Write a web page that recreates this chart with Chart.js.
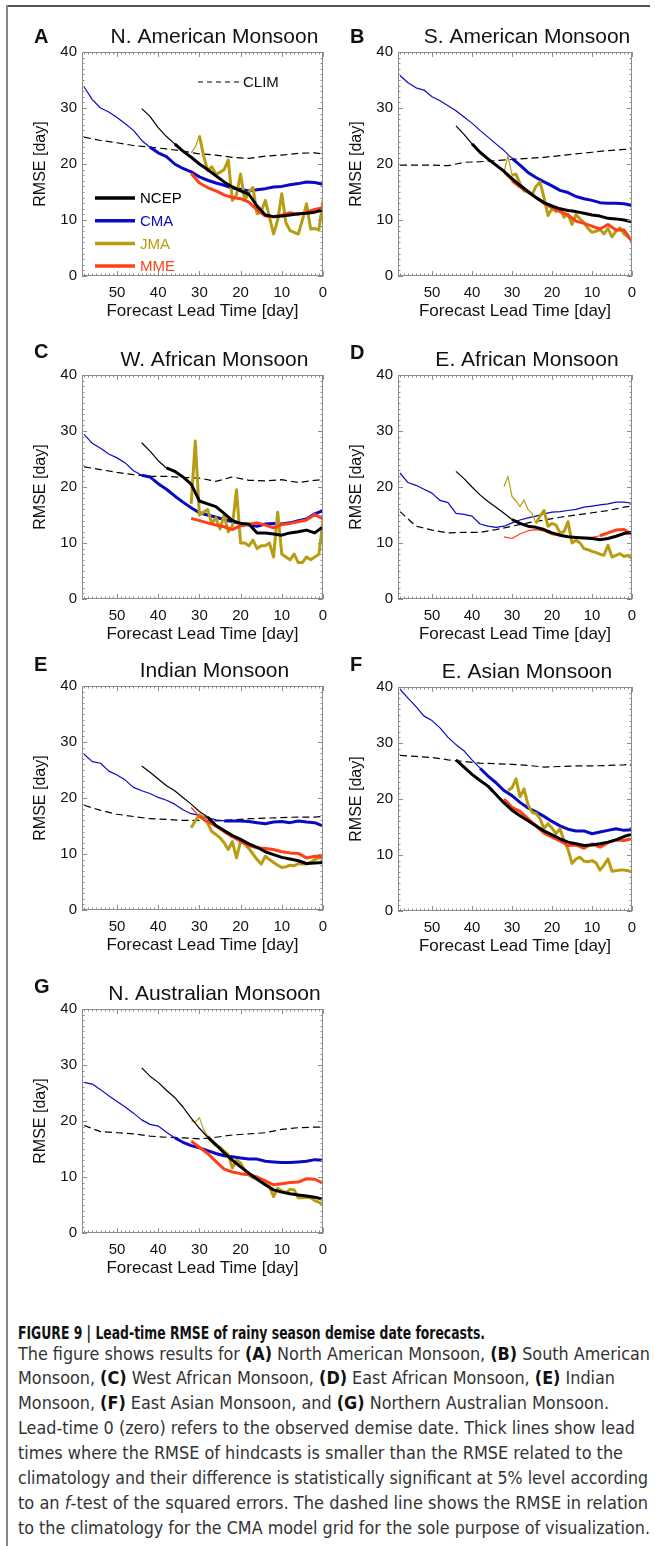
<!DOCTYPE html>
<html>
<head>
<meta charset="utf-8">
<script src="https://cdn.jsdelivr.net/npm/chart.js@4.4.0/dist/chart.umd.min.js"></script>
<style>
  body { margin: 0; background: #fff; width: 655px; height: 1546px; position: relative; overflow: hidden;
         font-family: "Liberation Sans", Arial, Helvetica, sans-serif; }
  .rule-top { position: absolute; left: 6px; top: 5px; width: 644px; height: 2px; background: #555; }
  .rule-left { position: absolute; left: 6px; top: 5px; width: 2px; height: 1541px; background: #888; }
  .cl { position: absolute; left: 18px; white-space: nowrap; font-size: 18px; line-height: 25px; height: 25px;
        color: #333; transform-origin: 0 50%;
        font-family: "Liberation Sans Narrow", "DejaVu Sans Condensed", "Liberation Sans", Arial, sans-serif; }
  .cl b { color: #111; }
</style>
</head>
<body>
<div class="rule-top"></div>
<div class="rule-left"></div>

<div class="cl" style="top:1320px" data-w="467"><b>FIGURE 9 | Lead-time RMSE of rainy season demise date forecasts.</b></div>
<div class="cl" style="top:1341px" data-w="632">The figure shows results for <b>(A)</b> North American Monsoon, <b>(B)</b> South American</div>
<div class="cl" style="top:1365px">Monsoon, <b>(C)</b> West African Monsoon, <b>(D)</b> East African Monsoon, <b>(E)</b> Indian</div>
<div class="cl" style="top:1390px">Monsoon, <b>(F)</b> East Asian Monsoon, and <b>(G)</b> Northern Australian Monsoon.</div>
<div class="cl" style="top:1415px" data-w="617">Lead-time 0 (zero) refers to the observed demise date. Thick lines show lead</div>
<div class="cl" style="top:1440px" data-w="605">times where the RMSE of hindcasts is smaller than the RMSE related to the</div>
<div class="cl" style="top:1465px" data-w="630">climatology and their difference is statistically significant at 5% level according</div>
<div class="cl" style="top:1490px" data-w="630">to an <i>f</i>-test of the squared errors. The dashed line shows the RMSE in relation</div>
<div class="cl" style="top:1515px" data-w="632">to the climatology for the CMA model grid for the sole purpose of visualization.</div>

<script>
// lead times (days before observed demise date)
const leadClim = [58, 54, 50, 46, 42, 38, 34, 30, 26, 22, 18, 14, 10, 6, 2, 0];
const leadCma = [58, 56, 54, 52, 50, 48, 46, 44, 42, 40, 38, 36, 34, 32, 30, 28, 26, 24, 22, 20, 18, 16, 14, 12, 10, 8, 6, 4, 2, 0];
const leadNcep = [44, 42, 40, 38, 36, 34, 32, 30, 28, 26, 24, 22, 20, 18, 16, 14, 12, 10, 8, 6, 4, 2, 0];
const leadJma = [32, 31, 30, 29, 28, 27, 26, 25, 24, 23, 22, 21, 20, 19, 18, 17, 16, 15, 14, 13, 12, 11, 10, 9, 8, 7, 6, 5, 4, 3, 2, 1, 0];
const leadMme = [32, 30, 28, 26, 24, 22, 20, 18, 16, 14, 12, 10, 8, 6, 4, 2, 0];
const xTicks = [50, 40, 30, 20, 10, 0];
const yTicks = [0, 10, 20, 30, 40];

// A  N. American Monsoon
const climA = [24.8, 24.2, 23.8, 23.3, 23.0, 22.7, 22.3, 21.8, 21.6, 21.2, 21.0, 21.4, 21.6, 21.9, 22.0, 21.8];
const cmaA = [33.8, 31.5, 30.0, 29.3, 28.3, 27.2, 26.0, 24.2, 23.0, 22.0, 21.3, 20.0, 19.2, 18.6, 17.7, 17.1, 16.6, 16.2, 15.7, 15.5, 15.2, 15.4, 15.6, 15.9, 16.0, 16.3, 16.5, 16.8, 16.7, 16.4];
const ncepA = [29.9, 28.5, 26.5, 24.9, 23.6, 22.3, 21.2, 20.0, 19.0, 17.9, 16.8, 15.9, 15.2, 14.6, 12.5, 10.9, 10.6, 10.7, 10.9, 11.1, 11.2, 11.4, 11.8];
const jmaA = [22.0, 23.0, 25.1, 21.5, 18.8, 19.5, 18.2, 18.5, 19.0, 20.7, 13.5, 14.5, 18.2, 13.5, 15.0, 15.8, 11.1, 11.5, 13.5, 10.5, 7.5, 10.0, 14.7, 9.5, 8.1, 7.8, 7.5, 10.0, 12.9, 8.4, 8.5, 8.2, 13.5];
const mmeA = [18.3, 16.6, 15.8, 15.2, 14.5, 14.0, 13.8, 13.2, 11.8, 10.7, 10.6, 10.9, 11.3, 11.0, 11.4, 11.9, 12.2];

// B  S. American Monsoon
const climB = [19.8, 19.8, 19.8, 19.7, 20.3, 20.4, 20.6, 20.8, 21.0, 21.2, 21.5, 21.8, 22.1, 22.4, 22.6, 22.7];
const cmaB = [35.8, 34.5, 33.6, 33.2, 32.0, 31.3, 30.4, 29.5, 28.4, 27.3, 26.0, 24.8, 23.6, 22.4, 21.0, 19.8, 18.5, 17.6, 16.8, 16.1, 15.3, 14.9, 14.2, 13.8, 13.5, 13.1, 13.0, 13.0, 12.9, 12.6];
const ncepB = [26.8, 25.3, 23.6, 22.1, 20.9, 19.8, 18.7, 17.4, 16.2, 15.1, 14.0, 13.1, 12.5, 12.0, 11.7, 11.5, 11.2, 10.9, 10.7, 10.3, 10.2, 10.0, 9.7];
const jmaB = [18.5, 21.5, 18.0, 18.2, 16.5, 15.2, 15.0, 14.5, 16.0, 16.8, 14.0, 10.8, 12.0, 11.5, 12.0, 10.5, 11.0, 9.2, 11.0, 10.2, 9.5, 8.5, 7.8, 8.0, 8.3, 7.5, 8.5, 7.0, 8.0, 8.6, 7.5, 7.0, 6.4];
const mmeB = [18.4, 17.0, 15.9, 15.0, 14.0, 13.0, 12.2, 11.5, 10.9, 9.8, 9.4, 8.9, 8.4, 9.2, 8.2, 8.2, 6.2];

// C  W. African Monsoon
const climC = [23.6, 23.1, 22.6, 22.2, 21.9, 21.9, 21.7, 21.6, 21.0, 21.8, 21.2, 21.1, 21.3, 20.8, 21.2, 21.3];
const cmaC = [29.4, 27.8, 26.9, 25.9, 25.2, 24.3, 22.9, 22.1, 21.8, 20.6, 19.6, 18.4, 17.3, 16.3, 15.4, 15.0, 14.6, 14.2, 13.8, 13.5, 13.2, 13.0, 13.4, 13.5, 13.4, 13.6, 14.0, 14.3, 15.2, 15.8];
const ncepC = [27.9, 26.4, 24.7, 23.4, 22.8, 21.8, 20.5, 17.5, 17.0, 16.5, 15.3, 14.0, 13.5, 13.4, 11.8, 11.8, 11.6, 11.4, 11.8, 12.0, 12.3, 11.8, 12.9];
const jmaC = [17.0, 28.2, 15.0, 15.5, 16.0, 13.5, 14.5, 12.5, 15.0, 12.0, 13.0, 19.5, 10.0, 10.0, 9.5, 10.5, 9.0, 9.5, 9.5, 10.0, 7.5, 15.5, 8.0, 7.5, 7.0, 8.0, 6.5, 6.5, 7.5, 7.0, 7.5, 8.0, 14.0];
const mmeC = [14.4, 14.0, 13.6, 13.2, 12.9, 12.4, 13.1, 13.3, 13.6, 13.2, 12.7, 13.3, 13.5, 13.8, 14.1, 15.1, 14.3];

// D  E. African Monsoon
const climD = [15.6, 13.0, 12.3, 11.8, 11.9, 11.9, 12.4, 13.0, 13.6, 14.1, 14.6, 15.0, 15.4, 15.8, 16.4, 16.6];
const cmaD = [22.5, 20.8, 20.3, 19.6, 18.9, 17.6, 17.2, 15.3, 15.1, 14.8, 13.4, 13.0, 12.8, 13.0, 13.6, 14.1, 14.5, 14.8, 15.2, 15.5, 15.6, 15.8, 16.0, 16.4, 16.6, 16.8, 17.0, 17.3, 17.3, 17.1];
const ncepD = [22.8, 21.5, 20.0, 18.6, 17.4, 16.4, 15.3, 14.2, 13.5, 13.0, 12.8, 12.4, 11.8, 11.4, 11.1, 11.0, 10.9, 10.8, 10.6, 10.8, 11.2, 11.7, 11.9];
const jmaD = [20.1, 21.9, 18.3, 17.5, 16.5, 17.7, 16.0, 15.3, 13.5, 14.8, 15.8, 13.0, 13.5, 13.2, 11.8, 12.0, 13.8, 10.0, 10.5, 10.0, 9.0, 8.8, 8.5, 8.3, 8.0, 7.8, 9.6, 7.5, 7.8, 8.1, 7.6, 7.8, 7.2];
const mmeD = [11.1, 10.8, 11.6, 12.2, 12.4, 12.1, 11.5, 11.2, 11.1, 11.0, 11.0, 11.0, 11.3, 11.8, 12.3, 12.4, 11.5];

// E  Indian Monsoon
const climE = [18.7, 17.8, 17.1, 16.7, 16.3, 16.2, 16.0, 16.0, 15.9, 16.1, 16.3, 16.4, 16.5, 16.6, 16.6, 16.7];
const cmaE = [27.8, 26.5, 26.2, 24.8, 24.1, 23.2, 21.9, 21.3, 20.8, 20.1, 19.6, 18.9, 17.9, 17.2, 16.9, 16.5, 16.1, 15.9, 15.9, 15.9, 15.8, 15.6, 15.4, 15.7, 15.8, 15.6, 15.9, 15.7, 15.6, 15.0];
const ncepE = [25.7, 24.6, 23.4, 22.2, 21.3, 20.1, 18.9, 17.6, 16.6, 15.1, 14.2, 13.3, 12.6, 11.8, 11.2, 10.4, 9.9, 9.4, 9.1, 8.8, 8.3, 8.4, 8.5];
const jmaE = [14.7, 15.9, 17.0, 16.5, 15.5, 14.0, 13.5, 12.9, 12.0, 10.8, 12.2, 9.3, 12.3, 11.8, 11.0, 10.0, 9.0, 8.2, 9.6, 9.0, 8.5, 8.0, 7.6, 7.7, 8.0, 7.9, 8.3, 8.2, 8.2, 8.5, 9.0, 9.3, 9.3];
const mmeE = [18.3, 16.7, 15.8, 15.0, 14.0, 13.1, 12.3, 11.5, 11.1, 11.0, 10.8, 10.4, 10.2, 10.1, 9.3, 9.6, 9.5];

// F  E. Asian Monsoon
const climF = [27.8, 27.6, 27.4, 27.0, 26.7, 26.4, 26.3, 26.2, 26.0, 25.7, 25.8, 25.9, 25.9, 26.0, 26.1, 26.2];
const cmaF = [39.6, 38.0, 36.5, 34.8, 34.0, 32.7, 31.0, 29.7, 28.6, 27.0, 25.5, 24.1, 22.9, 21.5, 20.6, 19.4, 18.4, 17.7, 16.9, 16.0, 15.2, 14.6, 14.3, 14.3, 13.8, 14.1, 14.4, 14.7, 14.4, 14.5];
const ncepF = [27.0, 25.7, 24.4, 23.3, 22.3, 20.8, 19.3, 18.0, 17.0, 16.1, 15.2, 14.3, 13.6, 12.9, 12.3, 12.0, 11.7, 11.8, 12.0, 12.3, 12.7, 13.3, 13.7];
const jmaF = [null, 21.5, 22.0, 23.6, 20.4, 21.8, 19.0, 17.6, 17.4, 16.5, 14.7, 15.6, 14.8, 13.8, 14.7, 12.6, 11.0, 8.5, 9.3, 9.6, 8.9, 8.8, 9.0, 8.6, 7.3, 8.2, 9.3, 7.1, 7.2, 7.3, 7.3, 7.2, 7.0];
const mmeF = [20.0, 18.5, 17.8, 16.5, 15.2, 13.9, 13.2, 12.5, 11.7, 11.8, 11.2, 12.0, 11.4, 12.2, 12.7, 12.6, 12.9];

// G  N. Australian Monsoon
const climG = [19.2, 18.1, 17.9, 17.7, 17.3, 17.1, 17.0, 16.8, 17.1, 17.5, 17.7, 17.9, 18.5, 18.8, 18.9, 18.9];
const cmaG = [26.9, 26.6, 25.6, 24.5, 23.5, 22.5, 21.4, 20.2, 19.4, 19.1, 18.0, 17.0, 16.2, 15.6, 15.2, 14.7, 14.2, 13.8, 13.6, 13.4, 13.2, 13.2, 12.8, 12.7, 12.6, 12.6, 12.7, 12.8, 13.1, 13.0];
const ncepG = [29.5, 28.0, 26.9, 25.5, 24.2, 22.5, 20.5, 18.7, 17.1, 15.8, 14.3, 13.0, 11.8, 10.7, 9.6, 8.6, 7.7, 7.3, 7.0, 6.8, 6.6, 6.4, 6.0];
const jmaG = [20.0, 19.8, 20.6, 18.5, 17.3, 16.4, 15.6, 15.3, 14.6, 14.0, 11.6, 13.0, 12.5, 11.2, 10.4, 9.8, 9.9, 9.5, 8.8, 8.3, 6.5, 8.0, 7.5, 7.2, 7.8, 7.7, 6.3, 6.3, 6.4, 6.3, 5.8, 5.5, 5.1];
const mmeG = [16.4, 15.3, 14.2, 12.8, 11.4, 10.9, 10.6, 10.4, 10.0, 9.3, 8.6, 8.8, 9.0, 9.1, 9.7, 9.6, 8.9];

const colors = { NCEP: '#000000', CMA: '#0a0ac4', JMA: '#b89c12', MME: '#ff3f17', CLIM: '#000000' };

// box = plot area [left, top, right, bottom] on the page; thick = lead where the line turns thick [ncep, cma, jma, mme]
const panels = [
  { letter: 'A', title: 'N. American Monsoon', box: [82, 52, 323, 276], letterY: 37,
    clim: climA, cma: cmaA, ncep: ncepA, jma: jmaA, mme: mmeA, thick: [37, 43, 30, 32], legend: true },
  { letter: 'B', title: 'S. American Monsoon', box: [398, 52, 632, 276], letterY: 37,
    clim: climB, cma: cmaB, ncep: ncepB, jma: jmaB, mme: mmeB, thick: [40, 30, 30, 30] },
  { letter: 'C', title: 'W. African Monsoon', box: [82, 375, 323, 599], letterY: 352,
    clim: climC, cma: cmaC, ncep: ncepC, jma: jmaC, mme: mmeC, thick: [38, 44, 32, 32] },
  { letter: 'D', title: 'E. African Monsoon', box: [398, 375, 632, 599], letterY: 353,
    clim: climD, cma: cmaD, ncep: ncepD, jma: jmaD, mme: mmeD, thick: [30, -1, 24, 8] },
  { letter: 'E', title: 'Indian Monsoon', box: [82, 686, 323, 910], letterY: 665,
    clim: climE, cma: cmaE, ncep: ncepE, jma: jmaE, mme: mmeE, thick: [28, 24, 32, 31] },
  { letter: 'F', title: 'E. Asian Monsoon', box: [398, 687, 632, 911], letterY: 665,
    clim: climF, cma: cmaF, ncep: ncepF, jma: jmaF, mme: mmeF, thick: [44, 39, 32, 32] },
  { letter: 'G', title: 'N. Australian Monsoon', box: [82, 1009, 323, 1233], letterY: 987,
    clim: climG, cma: cmaG, ncep: ncepG, jma: jmaG, mme: mmeG, thick: [29, 36, 28, 32] }
];

Chart.defaults.font.family = '"Liberation Sans", Arial, Helvetica, sans-serif';
Chart.defaults.color = '#111';

const FONT = '"Liberation Sans", Arial, Helvetica, sans-serif';

function pairs(lead, vals) {
  return lead.map((x, i) => ({ x: x, y: vals[i] }));
}

function line(label, lead, vals, thickFrom) {
  return {
    label: label,
    data: pairs(lead, vals),
    borderColor: colors[label],
    borderWidth: 1.2,
    pointRadius: 0,
    tension: 0,
    spanGaps: false,
    borderJoinStyle: 'round',
    segment: { borderWidth: c => (c.p0.parsed.x <= thickFrom ? 3 : 1.2) }
  };
}

// box, inward ticks, panel letter and title, legend
const decor = {
  id: 'decor',
  afterDatasetsDraw(chart, args, o) {
    const { ctx, chartArea: a, scales: { x, y } } = chart;
    ctx.save();
    ctx.strokeStyle = '#8c8c8c';
    ctx.lineWidth = 1;
    ctx.strokeRect(a.left + 0.5, a.top + 0.5, a.right - a.left - 1, a.bottom - a.top - 1);
    ctx.beginPath();
    for (let v = 0; v <= 58; v++) {
      const px = Math.round(x.getPixelForValue(v)) + 0.5;
      const len = v % 10 === 0 ? 5 : 2.5;
      ctx.moveTo(px, a.bottom); ctx.lineTo(px, a.bottom - len);
      ctx.moveTo(px, a.top); ctx.lineTo(px, a.top + len);
    }
    for (let v = 0; v <= 40; v++) {
      const py = Math.round(y.getPixelForValue(v)) + 0.5;
      const len = v % 10 === 0 ? 5 : 2.5;
      ctx.moveTo(a.left, py); ctx.lineTo(a.left + len, py);
      ctx.moveTo(a.right, py); ctx.lineTo(a.right - len, py);
    }
    ctx.stroke();

    ctx.fillStyle = '#111';
    ctx.textBaseline = 'middle';
    ctx.font = 'bold 20px ' + FONT;
    ctx.textAlign = 'left';
    ctx.fillText(o.letter, a.left - 48, a.top + o.letterDy);
    ctx.font = '21px ' + FONT;
    ctx.textAlign = 'center';
    ctx.fillText(o.title, (a.left + a.right) / 2 + 12, a.top - 15);

    if (o.legend) {
      ctx.font = '15px ' + FONT;
      ctx.textAlign = 'left';
      ['NCEP', 'CMA', 'JMA', 'MME'].forEach((name, i) => {
        const ds = chart.data.datasets.find(d => d.label === name);
        const ly = a.top + 146 + i * 22.7;
        ctx.strokeStyle = ds.borderColor;
        ctx.lineWidth = 3.5;
        ctx.beginPath(); ctx.moveTo(a.left + 13, ly); ctx.lineTo(a.left + 53, ly); ctx.stroke();
        ctx.fillStyle = ds.borderColor;
        ctx.fillText(name, a.left + 58, ly + 1);
      });
      const cy = a.top + 30;
      ctx.strokeStyle = '#000';
      ctx.lineWidth = 1.2;
      ctx.setLineDash([5, 4]);
      ctx.beginPath(); ctx.moveTo(a.left + 116, cy); ctx.lineTo(a.left + 158, cy); ctx.stroke();
      ctx.setLineDash([]);
      ctx.fillStyle = '#111';
      ctx.fillText('CLIM', a.left + 161, cy + 1);
    }
    ctx.restore();
  }
};

const PAD_L = 62, PAD_T = 52, PAD_R = 14, PAD_B = 48;

panels.forEach(p => {
  const [l, t, r, b] = p.box;
  const W = r - l + PAD_L + PAD_R, H = b - t + PAD_T + PAD_B;
  const cv = document.createElement('canvas');
  cv.width = W; cv.height = H;
  cv.style.cssText = `position:absolute;left:${l - PAD_L}px;top:${t - PAD_T}px;width:${W}px;height:${H}px`;
  document.body.appendChild(cv);

  const clim = {
    label: 'CLIM', data: pairs(leadClim, p.clim), borderColor: colors.CLIM, borderWidth: 1.2,
    borderDash: [7, 4], pointRadius: 0, tension: 0
  };

  new Chart(cv.getContext('2d'), {
    type: 'line',
    data: {
      datasets: [
        line('NCEP', leadNcep, p.ncep, p.thick[0]),
        line('MME', leadMme, p.mme, p.thick[3]),
        line('JMA', leadJma, p.jma, p.thick[2]),
        line('CMA', leadCma, p.cma, p.thick[1]),
        clim
      ]
    },
    options: {
      responsive: false,
      animation: false,
      devicePixelRatio: 1,
      events: [],
      layout: { padding: { left: 0, top: PAD_T, right: PAD_R, bottom: 0 } },
      scales: {
        x: {
          type: 'linear', reverse: true, min: 0, max: 58.5,
          afterFit: s => { s.height = PAD_B; },
          afterBuildTicks: s => { s.ticks = xTicks.map(v => ({ value: v })); },
          grid: { display: false, drawTicks: false },
          border: { display: false },
          ticks: { font: { size: 15 }, color: '#111', padding: 8, maxRotation: 0, autoSkip: false },
          title: { display: true, text: 'Forecast Lead Time [day]', color: '#111',
                   font: { size: 17, lineHeight: 1 }, padding: { top: 0, bottom: 4.5 } }
        },
        y: {
          min: 0, max: 40,
          afterFit: s => { s.width = PAD_L; },
          afterBuildTicks: s => { s.ticks = yTicks.map(v => ({ value: v })); },
          grid: { display: false, drawTicks: false },
          border: { display: false },
          ticks: { font: { size: 15 }, color: '#111', padding: 5 },
          title: { display: true, text: 'RMSE [day]', color: '#111',
                   font: { size: 16, lineHeight: 1 }, padding: { top: 13, bottom: 0 } }
        }
      },
      plugins: {
        legend: { display: false },
        tooltip: { enabled: false },
        decor: { letter: p.letter, title: p.title, letterDy: p.letterY - t, legend: !!p.legend }
      }
    },
    plugins: [decor]
  });
});

// fit caption lines with a measured width; the others take the mean squeeze
const capLines = Array.from(document.querySelectorAll('.cl'));
const scales = [];
capLines.forEach(el => {
  if (!el.dataset.w) return;
  const k = +el.dataset.w / el.getBoundingClientRect().width;
  el.style.transform = `scaleX(${k.toFixed(4)})`;
  if (!el.querySelector('b') || el.textContent.indexOf('FIGURE') < 0) scales.push(k);
});
const meanK = scales.reduce((s, k) => s + k, 0) / scales.length;
capLines.forEach(el => {
  if (!el.dataset.w) el.style.transform = `scaleX(${meanK.toFixed(4)})`;
});
</script>
</body>
</html>
